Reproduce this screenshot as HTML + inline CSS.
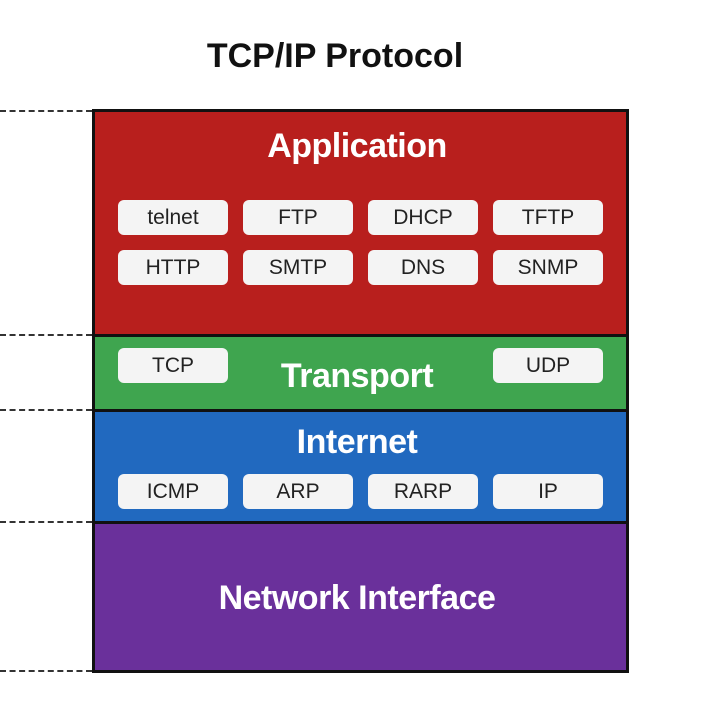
<!DOCTYPE html>
<html><head><style>
body{margin:0;width:714px;height:728px;background:#fff;position:relative;overflow:hidden;font-family:"Liberation Sans",sans-serif}
.t{position:absolute;left:0;width:670px;text-align:center;top:37px;font-size:34px;font-weight:bold;color:#111}
.d{position:absolute;left:0;width:92px;border-top:2px dashed #333}
.l{position:absolute;left:92px;width:537px;box-sizing:border-box;border:3px solid #111}
.h{position:absolute;left:0;width:100%;text-align:center;color:#fff;font-weight:bold;font-size:34px;letter-spacing:-0.5px}
.p{position:absolute;width:110px;height:35px;background:#f4f4f4;border-radius:6px;text-align:center;line-height:35px;font-size:21px;color:#222}
</style></head><body>
<div class="t">TCP/IP Protocol</div>
<div class="d" style="top:110px"></div>
<div class="d" style="top:334px"></div>
<div class="d" style="top:409px"></div>
<div class="d" style="top:521px"></div>
<div class="d" style="top:670px"></div>
<div class="l" style="top:109px;height:228px;background:#b81f1d"></div>
<div class="l" style="top:334px;height:78px;background:#3fa54f"></div>
<div class="l" style="top:409px;height:115px;background:#2169bf"></div>
<div class="l" style="top:521px;height:152px;background:#6a309b"></div>
<div class="h" style="top:127px">Application</div>
<div class="h" style="top:357px">Transport</div>
<div class="h" style="top:423px">Internet</div>
<div class="h" style="top:579px">Network Interface</div>
<div class="p" style="left:118px;top:200px">telnet</div>
<div class="p" style="left:243px;top:200px">FTP</div>
<div class="p" style="left:368px;top:200px">DHCP</div>
<div class="p" style="left:493px;top:200px">TFTP</div>
<div class="p" style="left:118px;top:250px">HTTP</div>
<div class="p" style="left:243px;top:250px">SMTP</div>
<div class="p" style="left:368px;top:250px">DNS</div>
<div class="p" style="left:493px;top:250px">SNMP</div>
<div class="p" style="left:118px;top:348px">TCP</div>
<div class="p" style="left:493px;top:348px">UDP</div>
<div class="p" style="left:118px;top:474px">ICMP</div>
<div class="p" style="left:243px;top:474px">ARP</div>
<div class="p" style="left:368px;top:474px">RARP</div>
<div class="p" style="left:493px;top:474px">IP</div>
</body></html>
